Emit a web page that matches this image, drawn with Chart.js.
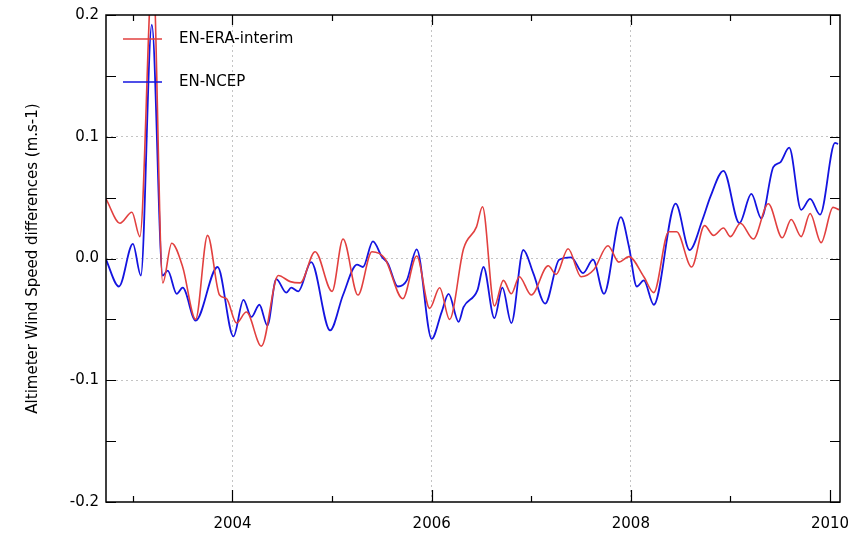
<!DOCTYPE html>
<html>
<head>
<meta charset="utf-8">
<script src="https://cdn.jsdelivr.net/npm/chart.js@4"></script>
<style>
  html, body { margin: 0; padding: 0; background: #fff; }
  #wrap { width: 854px; height: 536px; }
</style>
</head>
<body>
<div id="wrap"><canvas id="canvas" width="854" height="536"></canvas></div>
<script>
// EN-ERA-interim (red)
var eraYears = [2002.73, 2002.87, 2002.99, 2003.07, 2003.20, 2003.30, 2003.39, 2003.50, 2003.63, 2003.75,
  2003.87, 2003.94, 2004.04, 2004.14, 2004.29, 2004.46, 2004.58, 2004.68, 2004.83, 2005.00,
  2005.11, 2005.26, 2005.40, 2005.53, 2005.71, 2005.85, 2005.98, 2006.08, 2006.18, 2006.32,
  2006.45, 2006.51, 2006.63, 2006.72, 2006.80, 2006.88, 2007.00, 2007.17, 2007.25, 2007.37,
  2007.50, 2007.63, 2007.77, 2007.88, 2007.98, 2008.13, 2008.23, 2008.38, 2008.46, 2008.61,
  2008.74, 2008.83, 2008.93, 2009.00, 2009.10, 2009.23, 2009.38, 2009.52, 2009.61, 2009.71,
  2009.80, 2009.91, 2010.03, 2010.09];
var eraValues = [0.049, 0.029, 0.038, 0.018, 0.24, -0.020, 0.0125, -0.007, -0.050, 0.019,
  -0.030, -0.033, -0.053, -0.044, -0.072, -0.014, -0.019, -0.020, 0.0056, -0.027,
  0.016, -0.030, 0.0056, 0.000, -0.033, 0.002, -0.041, -0.024, -0.050, 0.008,
  0.026, 0.0425, -0.039, -0.018, -0.029, -0.015, -0.030, -0.006, -0.013, 0.008,
  -0.015, -0.009, 0.0105, -0.003, 0.0015, -0.015, -0.028, 0.022, 0.022, -0.007,
  0.027, 0.019, 0.025, 0.018, 0.029, 0.016, 0.045, 0.017, 0.032, 0.018,
  0.037, 0.013, 0.042, 0.040];

// EN-NCEP (blue)
var ncepYears = [2002.73, 2002.86, 2003.00, 2003.08, 2003.19, 2003.30, 2003.35, 2003.44, 2003.50, 2003.63,
  2003.85, 2004.01, 2004.11, 2004.19, 2004.27, 2004.35, 2004.44, 2004.54, 2004.59, 2004.66,
  2004.79, 2004.98, 2005.11, 2005.25, 2005.31, 2005.41, 2005.50, 2005.56, 2005.66, 2005.75,
  2005.85, 2006.00, 2006.10, 2006.17, 2006.27, 2006.32, 2006.46, 2006.52, 2006.63, 2006.71,
  2006.80, 2006.92, 2007.02, 2007.14, 2007.28, 2007.40, 2007.52, 2007.62, 2007.73, 2007.90,
  2007.98, 2008.06, 2008.13, 2008.23, 2008.45, 2008.59, 2008.72, 2008.80, 2008.93, 2009.09,
  2009.21, 2009.31, 2009.43, 2009.50, 2009.59, 2009.71, 2009.80, 2009.90, 2010.05, 2010.08];
var ncepValues = [-0.001, -0.023, 0.012, -0.014, 0.192, -0.014, -0.010, -0.029, -0.024, -0.051,
  -0.007, -0.064, -0.034, -0.048, -0.038, -0.055, -0.017, -0.028, -0.024, -0.027,
  -0.003, -0.059, -0.030, -0.005, -0.007, 0.014, 0.0015, -0.004, -0.023, -0.018,
  0.0075, -0.066, -0.044, -0.029, -0.052, -0.040, -0.026, -0.007, -0.049, -0.024,
  -0.053, 0.007, -0.012, -0.037, -0.001, 0.001, -0.012, -0.001, -0.029, 0.034,
  0.010, -0.023, -0.018, -0.038, 0.045, 0.007, 0.032, 0.051, 0.072, 0.029,
  0.053, 0.033, 0.075, 0.079, 0.091, 0.040, 0.049, 0.036, 0.095, 0.094];

var seriesNames = ["EN-ERA-interim", "EN-NCEP"];
var yTickValues = [-0.2, -0.15, -0.1, -0.05, 0, 0.05, 0.1, 0.15, 0.2];
var xMajorYears = [2004, 2006, 2008, 2010];
var xMinorYears = [2003, 2005, 2007, 2009];

function toPoints(xs, ys) {
  var pts = [];
  for (var i = 0; i < xs.length; i++) pts.push({x: xs[i], y: ys[i]});
  return pts;
}

var FONT = "'DejaVu Sans', sans-serif";

// box, inward ticks and the in-plot legend
var frame = {
  id: "frame",
  afterDraw: function(chart) {
    var c = chart.ctx, a = chart.chartArea;
    var xs = chart.scales.x, ys = chart.scales.y;
    c.save();
    c.strokeStyle = "#000";
    c.lineWidth = 1.5;
    c.strokeRect(a.left, a.top, a.right - a.left, a.bottom - a.top);
    c.lineWidth = 1.2;
    c.beginPath();
    yTickValues.forEach(function(v) {
      var py = Math.round(ys.getPixelForValue(v)) + 0.5;
      c.moveTo(a.left, py); c.lineTo(a.left + 10, py);
      c.moveTo(a.right, py); c.lineTo(a.right - 10, py);
    });
    xMajorYears.forEach(function(v) {
      var px = Math.round(xs.getPixelForValue(v)) + 0.5;
      c.moveTo(px, a.bottom); c.lineTo(px, a.bottom - 12);
      c.moveTo(px, a.top); c.lineTo(px, a.top + 10);
    });
    xMinorYears.forEach(function(v) {
      var px = Math.round(xs.getPixelForValue(v)) + 0.5;
      c.moveTo(px, a.bottom); c.lineTo(px, a.bottom - 6);
      c.moveTo(px, a.top); c.lineTo(px, a.top + 6);
    });
    c.stroke();

    // legend
    c.font = "15px " + FONT;
    c.textBaseline = "middle";
    c.fillStyle = "#000";
    chart.data.datasets.forEach(function(ds, i) {
      var ly = 39 + i * 43;
      c.strokeStyle = ds.borderColor;
      c.lineWidth = 1.6;
      c.beginPath();
      c.moveTo(123, ly); c.lineTo(162, ly);
      c.stroke();
      c.fillText(ds.label, 179, ly);
    });
    c.restore();
  }
};

var ctx = document.getElementById("canvas").getContext("2d");
new Chart(ctx, {
  type: "line",
  data: {
    datasets: [
      {
        label: seriesNames[0],
        data: toPoints(eraYears, eraValues),
        borderColor: "#e2403f",
        borderWidth: 1.6,
        pointRadius: 0,
        cubicInterpolationMode: "monotone",
        fill: false
      },
      {
        label: seriesNames[1],
        data: toPoints(ncepYears, ncepValues),
        borderColor: "#1414e0",
        borderWidth: 1.8,
        pointRadius: 0,
        cubicInterpolationMode: "monotone",
        fill: false
      }
    ]
  },
  options: {
    responsive: false,
    animation: false,
    layout: { padding: { top: 15, right: 14, left: 0, bottom: 0 } },
    plugins: { legend: { display: false }, tooltip: { enabled: false } },
    scales: {
      x: {
        type: "linear",
        min: 2002.73,
        max: 2010.10,
        afterFit: function(s) {
          s.height = 34;
          s.paddingLeft = 0;
          s.paddingRight = 0;
        },
        ticks: {
          stepSize: 1,
          includeBounds: false,
          padding: 13,
          color: "#000",
          font: { family: FONT, size: 15 },
          maxRotation: 0,
          autoSkip: false,
          callback: function(v) { return v % 2 === 0 ? String(v) : ""; }
        },
        grid: {
          drawTicks: false,
          lineWidth: 1,
          color: function(c) {
            var v = c.tick ? c.tick.value : 0;
            return (v === 2004 || v === 2006 || v === 2008) ? "#c4c4c4" : "rgba(0,0,0,0)";
          }
        },
        border: { display: false, dash: [2, 3] }
      },
      y: {
        min: -0.2,
        max: 0.2,
        afterFit: function(s) {
          s.width = 106;
          s.paddingTop = 0;
          s.paddingBottom = 0;
        },
        ticks: {
          stepSize: 0.1,
          padding: 7,
          color: "#000",
          font: { family: FONT, size: 15 },
          callback: function(v) { return Number(v).toFixed(1); }
        },
        grid: {
          drawTicks: false,
          lineWidth: 1,
          color: function(c) {
            var v = c.tick ? Math.abs(c.tick.value) : 0;
            return v > 0.15 ? "rgba(0,0,0,0)" : "#c4c4c4";
          }
        },
        border: { display: false, dash: [2, 3] },
        title: {
          display: true,
          text: "Altimeter Wind Speed differences (m.s-1)",
          color: "#000",
          font: { family: FONT, size: 15 },
          padding: { top: 24, bottom: 0 }
        }
      }
    }
  },
  plugins: [frame]
});
</script>
</body>
</html>
